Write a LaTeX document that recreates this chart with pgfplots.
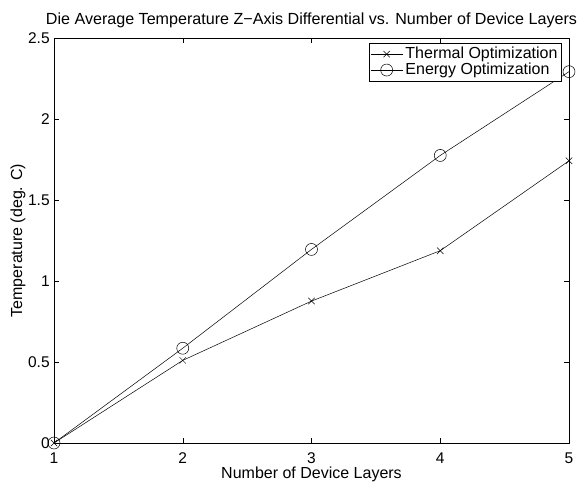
\documentclass[border=0pt]{standalone}
\usepackage{pgfplots}
\pgfplotsset{compat=1.18}
\usepackage{fontspec}
\setmainfont{Liberation Sans}
\begin{document}
\fontsize{15.5}{19}\selectfont
\begin{tikzpicture}[x=1pt,y=1pt]
\path[use as bounding box] (0,0) rectangle (580,485);
\begin{axis}[
  at={(54pt,42pt)}, anchor=south west,
  scale only axis, width=515pt, height=405pt,
  xmin=1, xmax=5, ymin=0, ymax=2.5,
  xtick={1,2,3,4,5}, ytick={0,0.5,1,1.5,2,2.5},
  tick align=inside, major tick length=5pt,
  xtick pos=both, ytick pos=both,
  axis line style={line width=0.6pt},
  tick style={line width=0.5pt,black},
  /pgf/number format/assume math mode=true,
  tick label style={font=\fontsize{15.5}{19}\selectfont},
  xticklabel style={yshift=-4pt},
  yticklabel style={xshift=1pt},
  title={Die Average Temperature Z−Axis Differential vs. Number of Device Layers},
  title style={font=\fontsize{16.1}{19}\selectfont, yshift=-1pt},
  xlabel={Number of Device Layers},
  xlabel style={font=\fontsize{16}{19}\selectfont, yshift=7pt},
  ylabel={Temperature (deg. C)},
  ylabel style={font=\fontsize{16}{19}\selectfont, yshift=-8pt},
  legend style={at={(0.986,0.988)}, anchor=north east, draw=black, line width=0.6pt,
    font=\fontsize{16}{19}\selectfont, inner sep=1.5pt, row sep=-3pt,
    nodes={inner sep=2.5pt}},
  legend image code/.code={\draw[mark repeat=2,mark phase=2] plot coordinates {(0pt,0pt) (16pt,0pt) (32pt,0pt)};},
  legend cell align=left,
]
\addplot[black, line width=0.5pt, mark=x, mark size=4.5pt, mark options={line width=0.5pt}]
  coordinates {(1,0) (2,0.51) (3,0.876) (4,1.187) (5,1.742)};
\addlegendentry{Thermal Optimization}
\addplot[black, line width=0.5pt, mark=o, mark size=6pt, mark options={line width=0.5pt}]
  coordinates {(1,0) (2,0.585) (3,1.195) (4,1.775) (5,2.292)};
\addlegendentry{Energy Optimization}
\end{axis}
\end{tikzpicture}
\end{document}
